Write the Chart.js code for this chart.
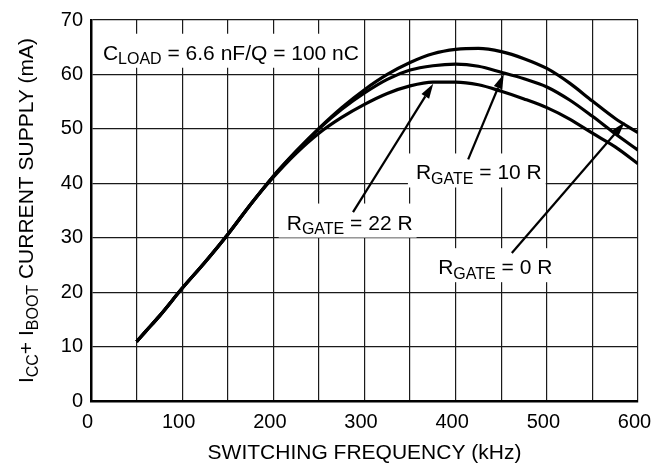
<!DOCTYPE html>
<html>
<head>
<meta charset="utf-8">
<script src="https://cdn.jsdelivr.net/npm/chart.js@4.4.1/dist/chart.umd.min.js"></script>
<style>
  html, body { margin: 0; padding: 0; background: #fff; }
</style>
</head>
<body>
<canvas id="chart" width="664" height="466"></canvas>
<script>
// switching frequency (kHz) and supply current (mA) for each gate resistor
const freqKHz   = [50, 60, 75, 100, 125, 150, 175, 200, 225, 250, 275, 300, 325, 350, 375, 400, 425, 450, 475, 500, 525, 550, 575, 600];
const supplyR0  = [10.9, 12.8, 15.6, 20.7, 25.5, 30.6, 36.1, 41.3, 45.9, 50.1, 53.9, 57.2, 60.0, 62.2, 63.8, 64.6, 64.8, 64.2, 62.9, 61.1, 58.4, 55.1, 51.9, 49.3];
const supplyR10 = [10.9, 12.8, 15.6, 20.7, 25.5, 30.6, 36.1, 41.3, 45.8, 50.0, 53.6, 56.6, 59.1, 60.8, 61.6, 61.9, 61.5, 60.4, 59.2, 57.7, 55.3, 52.3, 49.1, 46.1];
const supplyR22 = [10.9, 12.8, 15.6, 20.7, 25.5, 30.6, 36.1, 41.1, 45.5, 49.2, 52.1, 54.5, 56.5, 57.9, 58.6, 58.6, 58.1, 56.9, 55.5, 53.9, 51.8, 49.2, 46.7, 43.6];
const xTickLabels = [0, 100, 200, 300, 400, 500, 600];
const yTickLabels = [0, 10, 20, 30, 40, 50, 60, 70];

const FONT = '"Liberation Sans", Arial, Helvetica, sans-serif';

// text callouts, anchored in data units (kHz, mA)
const notes = [
  { main: 'C', sub: 'LOAD', rest: ' = 6.6 nF/Q = 100 nC', at: [13.1, 62.7] },
  { main: 'R', sub: 'GATE', rest: ' = 22 R', at: [214.7, 31.5], from: [287.4, 34.7], to: [375.4, 58.3] },
  { main: 'R', sub: 'GATE', rest: ' = 10 R', at: [356.4, 40.7], from: [413.7, 44.4], to: [452.8, 60.1] },
  { main: 'R', sub: 'GATE', rest: ' = 0 R',  at: [380.8, 23.3], from: [461.6, 27.2], to: [585.4, 51.2] }
];

function toPoints(vals) {
  return freqKHz.map((f, i) => ({ x: f, y: vals[i] }));
}

function arrow(ctx, x1, y1, x2, y2) {
  const ang = Math.atan2(y2 - y1, x2 - x1);
  const len = 15, half = 4.5;
  const bx = x2 - Math.cos(ang) * len, by = y2 - Math.sin(ang) * len;
  ctx.beginPath();
  ctx.moveTo(x1, y1);
  ctx.lineTo(bx, by);
  ctx.lineWidth = 2.2;
  ctx.strokeStyle = '#000';
  ctx.stroke();
  ctx.beginPath();
  ctx.moveTo(x2, y2);
  ctx.lineTo(bx - Math.sin(ang) * half, by + Math.cos(ang) * half);
  ctx.lineTo(bx + Math.sin(ang) * half, by - Math.cos(ang) * half);
  ctx.closePath();
  ctx.fillStyle = '#000';
  ctx.fill();
}

const notesPlugin = {
  id: 'notes',
  afterDatasetsDraw(chart) {
    const { ctx, scales: { x, y } } = chart;
    ctx.save();
    notes.forEach(n => {
      const px = x.getPixelForValue(n.at[0]);
      const py = y.getPixelForValue(n.at[1]);
      ctx.font = '21px ' + FONT;
      const w1 = ctx.measureText(n.main).width;
      const w3 = ctx.measureText(n.rest).width;
      ctx.font = '16px ' + FONT;
      const w2 = ctx.measureText(n.sub).width;
      const total = w1 + w2 + w3;
      ctx.fillStyle = '#fff';
      ctx.fillRect(px - 8, py - 26, total + 12, 34);
      ctx.fillStyle = '#000';
      ctx.textBaseline = 'alphabetic';
      ctx.textAlign = 'left';
      ctx.font = '21px ' + FONT;
      ctx.fillText(n.main, px, py);
      ctx.fillText(n.rest, px + w1 + w2, py);
      ctx.font = '16px ' + FONT;
      ctx.fillText(n.sub, px + w1, py + 4.7);
      if (n.from) {
        arrow(ctx, x.getPixelForValue(n.from[0]), y.getPixelForValue(n.from[1]),
                   x.getPixelForValue(n.to[0]), y.getPixelForValue(n.to[1]));
      }
    });
    ctx.restore();
  }
};

// y axis title with subscripts
const yTitlePlugin = {
  id: 'yTitle',
  afterDraw(chart) {
    const { ctx, chartArea } = chart;
    const parts = [['I', 0], ['CC', 1], ['+ I', 0], ['BOOT', 1], [' CURRENT SUPPLY (mA)', 0]];
    ctx.save();
    let total = 0;
    parts.forEach(p => {
      ctx.font = (p[1] ? '16px ' : '21px ') + FONT;
      total += ctx.measureText(p[0]).width;
    });
    ctx.translate(33, (chartArea.top + chartArea.bottom) / 2);
    ctx.rotate(-Math.PI / 2);
    ctx.fillStyle = '#000';
    ctx.textBaseline = 'alphabetic';
    ctx.textAlign = 'left';
    let cx = -total / 2;
    parts.forEach(p => {
      ctx.font = (p[1] ? '16px ' : '21px ') + FONT;
      ctx.fillText(p[0], cx, p[1] ? 4.7 : 0);
      cx += ctx.measureText(p[0]).width;
    });
    ctx.restore();
  }
};

const lineStyle = {
  borderColor: '#000',
  borderWidth: 3.2,
  pointRadius: 0,
  fill: false,
  cubicInterpolationMode: 'monotone'
};

new Chart(document.getElementById('chart'), {
  type: 'line',
  data: {
    datasets: [
      { label: 'RGATE = 0 R', data: toPoints(supplyR0), ...lineStyle },
      { label: 'RGATE = 10 R', data: toPoints(supplyR10), ...lineStyle },
      { label: 'RGATE = 22 R', data: toPoints(supplyR22), ...lineStyle }
    ]
  },
  options: {
    responsive: false,
    animation: false,
    layout: { padding: { left: 0, right: 26, top: 16, bottom: 0 } },
    plugins: {
      legend: { display: false },
      tooltip: { enabled: false }
    },
    scales: {
      x: {
        type: 'linear',
        min: 0,
        max: 600,
        afterFit(scale) { scale.height = 65; },
        afterBuildTicks(scale) {
          const t = [];
          for (let v = 0; v <= 600; v += 50) t.push({ value: v });
          scale.ticks = t;
        },
        ticks: {
          autoSkip: false,
          maxRotation: 0,
          padding: 9,
          labelOffset: -3.5,
          color: '#000',
          font: { family: FONT, size: 20 },
          callback: v => xTickLabels.includes(v) ? String(v) : ''
        },
        grid: { color: '#1a1a1a', lineWidth: 1.2, drawTicks: false },
        border: { color: '#000', width: 2.5 },
        title: {
          display: true,
          text: 'SWITCHING FREQUENCY (kHz)',
          color: '#000',
          font: { family: FONT, size: 21 },
          padding: { top: 0, bottom: 0 }
        }
      },
      y: {
        type: 'linear',
        min: 0,
        max: 70,
        afterFit(scale) { scale.width = 91; },
        afterBuildTicks(scale) {
          scale.ticks = yTickLabels.map(v => ({ value: v }));
        },
        ticks: {
          padding: 8,
          color: '#000',
          font: { family: FONT, size: 20 }
        },
        grid: { color: '#1a1a1a', lineWidth: 1.2, drawTicks: false },
        border: { color: '#000', width: 2.5 }
      }
    }
  },
  plugins: [notesPlugin, yTitlePlugin]
});
</script>
</body>
</html>
